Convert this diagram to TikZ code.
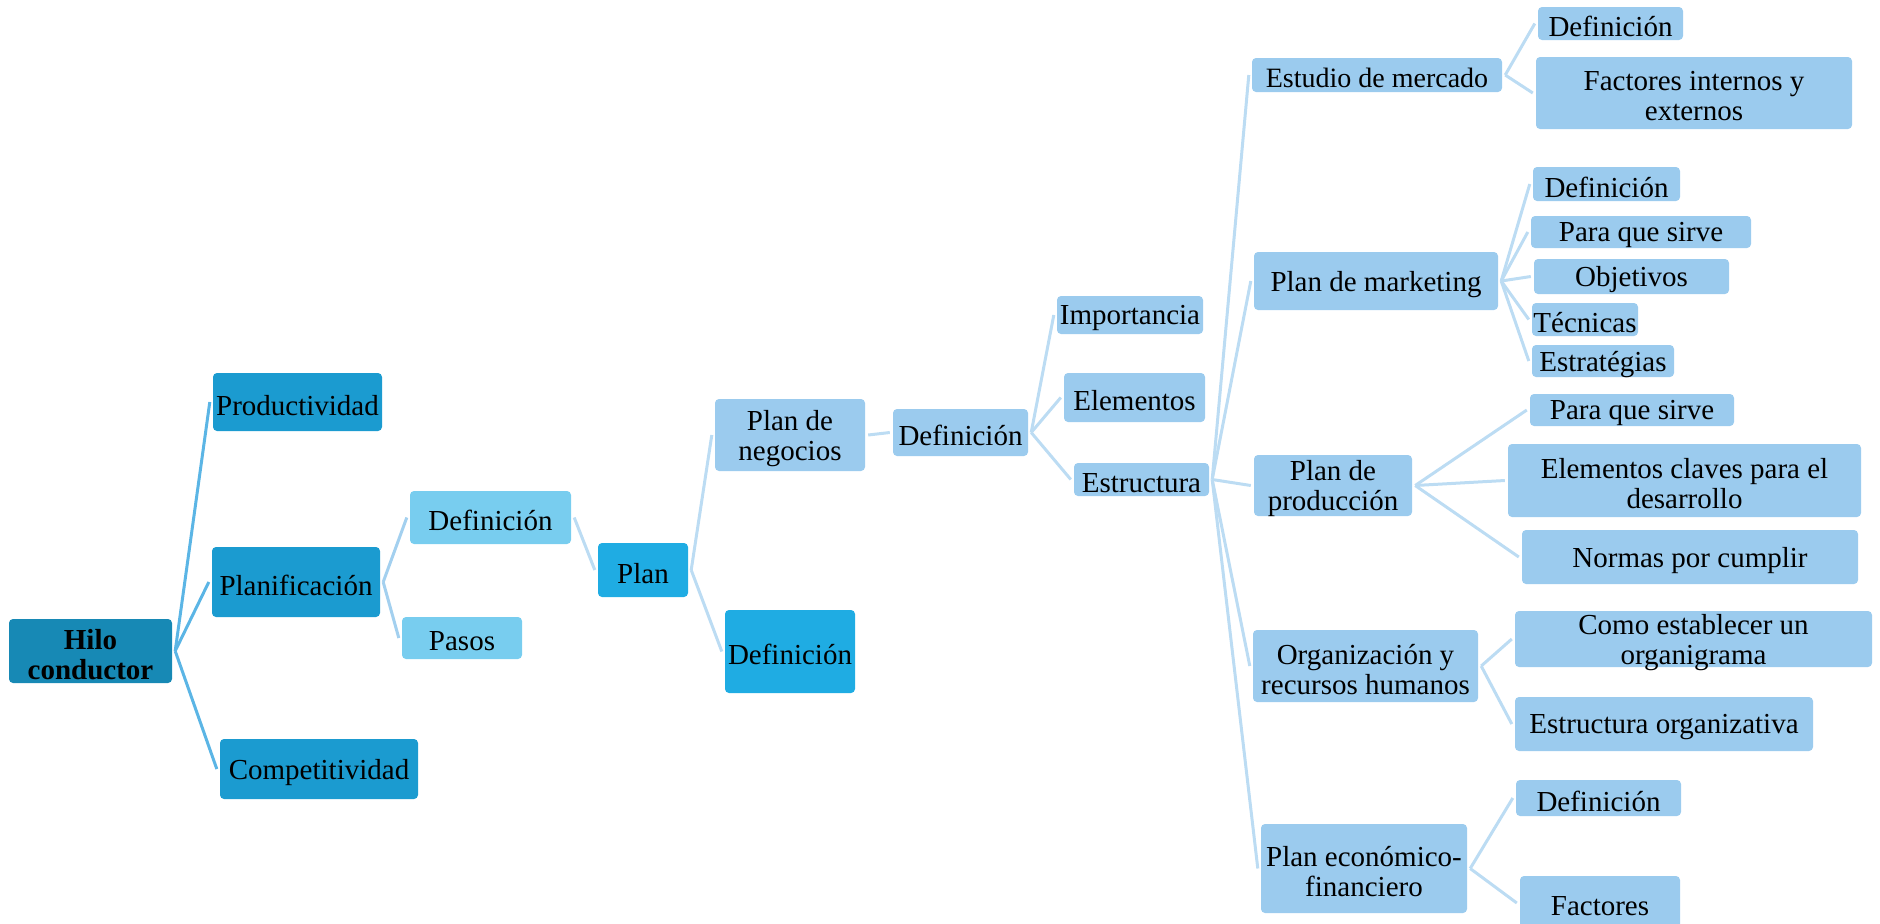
\documentclass[tikz,border=0pt]{standalone}
\usepackage{fontspec}
\setmainfont{Liberation Serif}

\definecolor{rootblue}{HTML}{1789B5}
\definecolor{lvlone}{HTML}{1B9BD0}
\definecolor{lvltwo}{HTML}{78CDEF}
\definecolor{planblue}{HTML}{1FACE3}
\definecolor{paleblue}{HTML}{9BCBEE}
\definecolor{linkdark}{HTML}{5BB5E5}
\definecolor{linkmid}{HTML}{A3D0EF}
\definecolor{linklight}{HTML}{BCDCF3}

\tikzset{
  box/.style={rectangle, rounded corners=2pt, inner sep=0pt, outer sep=1.6pt,
    align=center, text=black, font=\fontsize{14.5}{15}\selectfont},
  rootbox/.style={box, fill=rootblue, font=\bfseries\fontsize{14.5}{15}\selectfont},
  onebox/.style={box, fill=lvlone},
  twobox/.style={box, fill=lvltwo},
  planbox/.style={box, fill=planblue},
  palebox/.style={box, fill=paleblue},
  rootlink/.style={draw=linkdark, line width=1.5pt},
  midlink/.style={draw=linkmid, line width=1.5pt},
  lightlink/.style={draw=linklight, line width=1.5pt},
}

% \bx{name}{x1}{y1}{x2}{y2}{style}{text}: box given by its corners,
% its text set slightly below the geometric centre
\newcommand\bx[7]{%
  \node[#6, minimum width={(#4-#2)*0.5pt}, minimum height={(#5-#3)*0.5pt}]
    (#1) at ({(#2+#4)/2},{(#3+#5)/2}) {};
  \node[#6, fill=none, outer sep=0pt] (#1-t) at ([yshift=-1.6pt]#1.center) {#7};}

\begin{document}
\begin{tikzpicture}[x=0.5pt, y=-0.5pt]
\clip (0,0) rectangle (1880,923);
\useasboundingbox (0,0) rectangle (1880,923);

% root and first level
\bx{hilo}{9}{619}{172}{683}{rootbox}{Hilo\\conductor}
\bx{prod}{213}{373}{382}{431}{onebox}{Productividad}
\bx{planif}{212}{547}{380}{617}{onebox}{Planificación}
\bx{compet}{220}{739}{418}{799}{onebox}{Competitividad}

% planning branch
\bx{defA}{410}{491}{571}{544}{twobox}{Definición}
\bx{pasos}{402}{617}{522}{659}{twobox}{Pasos}
\bx{plan}{598}{543}{688}{597}{planbox}{Plan}
\bx{negocios}{715}{399}{865}{471}{palebox}{Plan de\\negocios}
\bx{defB}{725}{610}{855}{693}{planbox}{Definición}
\bx{defC}{893}{409}{1028}{456}{palebox}{Definición}
\bx{impo}{1057}{296}{1203}{334}{palebox}{Importancia}
\bx{elem}{1064}{373}{1205}{422}{palebox}{Elementos}
\bx{estr}{1074}{463}{1209}{496}{palebox}{Estructura}

% structure of the business plan
\bx{estudio}{1252}{58}{1502}{92}{palebox, font=\fontsize{14}{15}\selectfont}{Estudio de mercado}
\bx{mkt}{1254}{252}{1498}{310}{palebox}{Plan de marketing}
\bx{prodn}{1254}{455}{1412}{516}{palebox}{Plan de\\producción}
\bx{orga}{1253}{630}{1478}{702}{palebox}{Organización y\\recursos humanos}
\bx{econ}{1261}{824}{1467}{913}{palebox}{Plan económico-\\financiero}

% leaves
\bx{e1}{1538}{7}{1683}{40}{palebox}{Definición}
\bx{e2}{1536}{57}{1852}{129}{palebox}{Factores internos y\\externos}
\bx{m1}{1533}{167}{1680}{201}{palebox}{Definición}
\bx{m2}{1531}{216}{1751}{248}{palebox}{Para que sirve}
\bx{m3}{1534}{259}{1729}{294}{palebox}{Objetivos}
\bx{m4}{1532}{303}{1638}{336}{palebox}{Técnicas}
\bx{m5}{1532}{345}{1674}{377}{palebox}{Estratégias}
\bx{p1}{1530}{394}{1734}{426}{palebox}{Para que sirve}
\bx{p2}{1508}{444}{1861}{517}{palebox}{Elementos claves para el\\desarrollo}
\bx{p3}{1522}{530}{1858}{584}{palebox}{Normas por cumplir}
\bx{o1}{1515}{611}{1872}{667}{palebox}{Como establecer un\\organigrama}
\bx{o2}{1515}{697}{1813}{751}{palebox}{Estructura organizativa}
\bx{f1}{1516}{780}{1681}{816}{palebox}{Definición}
\bx{f2}{1520}{876}{1680}{930}{palebox}{Factores}

% connectors
\foreach \c in {prod, planif, compet}
  \draw[rootlink] (hilo.east) -- (\c.west);
\foreach \c in {defA, pasos}
  \draw[midlink] (planif.east) -- (\c.west);
\draw[lightlink] (defA.east) -- (plan.west);
\foreach \c in {negocios, defB}
  \draw[lightlink] (plan.east) -- (\c.west);
\draw[lightlink] (negocios.east) -- (defC.west);
\foreach \c in {impo, elem, estr}
  \draw[lightlink] (defC.east) -- (\c.west);
\foreach \c in {estudio, mkt, prodn, orga, econ}
  \draw[lightlink] (estr.east) -- (\c.west);
\foreach \c in {e1, e2}
  \draw[lightlink] (estudio.east) -- (\c.west);
\foreach \c in {m1, m2, m3, m4, m5}
  \draw[lightlink] (mkt.east) -- (\c.west);
\foreach \c in {p1, p2, p3}
  \draw[lightlink] (prodn.east) -- (\c.west);
\foreach \c in {o1, o2}
  \draw[lightlink] (orga.east) -- (\c.west);
\foreach \c in {f1, f2}
  \draw[lightlink] (econ.east) -- (\c.west);
\end{tikzpicture}
\end{document}
